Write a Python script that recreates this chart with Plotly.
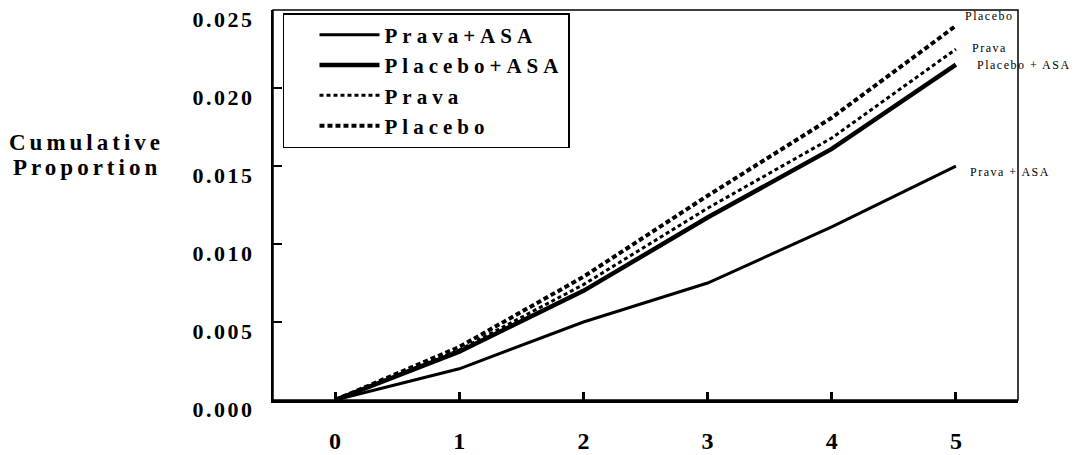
import plotly.graph_objects as go

years = [0, 1, 2, 3, 4, 5]
prava_asa = [0.0, 0.0020, 0.0050, 0.0075, 0.0111, 0.0150]
placebo_asa = [0.0, 0.0031, 0.0070, 0.0117, 0.0161, 0.0215]
prava = [0.0, 0.0032, 0.0074, 0.0123, 0.0168, 0.0225]
placebo = [0.0, 0.0034, 0.0079, 0.0131, 0.0181, 0.0240]

series_names = ["Prava+ASA", "Placebo+ASA", "Prava", "Placebo"]
end_labels = ["Prava + ASA", "Placebo + ASA", "Prava", "Placebo"]
y_ticks = [0.0, 0.005, 0.010, 0.015, 0.020, 0.025]
y_tick_labels = ["0.000", "0.005", "0.010", "0.015", "0.020", "0.025"]
x_tick_labels = ["0", "1", "2", "3", "4", "5"]
title_lines = ["Cumulative", "Proportion"]

SERIF = "Liberation Serif"


def spaced(s, px):
    return f'<span style="letter-spacing:{px}px">{s}</span>'


fig = go.Figure()
styles = [
    dict(width=3, dash="solid"),
    dict(width=4.5, dash="solid"),
    dict(width=3, dash="4px,3px"),
    dict(width=4, dash="5px,3px"),
]
for name, vals, st in zip(series_names, [prava_asa, placebo_asa, prava, placebo], styles):
    fig.add_trace(go.Scatter(x=years, y=vals, mode="lines", name=spaced(name, 5),
                             hovertext=name,
                             line=dict(color="black", width=st["width"], dash=st["dash"])))

# end-of-line labels
offsets = {"Prava + ASA": (12, -6), "Placebo + ASA": (19, 0), "Prava": (14, 1), "Placebo": (7, 10)}
for lab, vals in zip(end_labels, [prava_asa, placebo_asa, prava, placebo]):
    dx, dy = offsets[lab]
    fig.add_annotation(x=years[-1], y=vals[-1], xref="x", yref="y", text=spaced(lab, 1.5),
                       showarrow=False, xanchor="left", yanchor="middle", align="left",
                       xshift=dx, yshift=dy,
                       font=dict(family=SERIF, size=12, color="black"))

for line, py in zip(title_lines, [0.659, 0.597]):
    fig.add_annotation(x=-0.2497, y=py, xref="paper", yref="paper",
                       text=f"<b>{spaced(line, 4)}</b>", showarrow=False,
                       xanchor="center", yanchor="middle", align="center",
                       font=dict(family=SERIF, size=23, color="black"))

# frame (top/right thin)
fig.add_shape(type="rect", xref="paper", yref="paper", x0=0, y0=0, x1=1, y1=1,
              line=dict(color="black", width=1.5), layer="above")

# page body has an 8px margin: figure is sized so it ends at the window edge
fig.update_layout(
    width=1070, height=447,
    margin=dict(l=265, r=60, t=2, b=55, autoexpand=False),
    paper_bgcolor="white", plot_bgcolor="white",
    showlegend=True,
    legend=dict(x=0.0134, y=0.992, xanchor="left", yanchor="top",
                bgcolor="white", bordercolor="black", borderwidth=1.5,
                font=dict(family=SERIF, size=21, color="black", weight="bold"),
                itemwidth=60, tracegroupgap=0, indentation=30),
    xaxis=dict(range=[-0.5, 5.5], tickvals=years, ticktext=x_tick_labels,
               automargin=False, ticklabeloverflow="allow",
               showgrid=False, zeroline=False, showline=True, linecolor="black", linewidth=3,
               ticks="inside", ticklen=8, tickwidth=3, tickcolor="black",
               ticklabelstandoff=17,
               tickfont=dict(family=SERIF, size=24, color="black", weight="bold")),
    yaxis=dict(range=[0, 0.02501], tickvals=y_ticks,
               ticktext=[spaced(t, 2.5) for t in y_tick_labels],
               automargin=False, ticklabeloverflow="allow", ticklabelshift=9,
               showgrid=False, zeroline=False, showline=True, linecolor="black", linewidth=2,
               ticks="inside", ticklen=9, tickwidth=2, tickcolor="black",
               ticklabelstandoff=12,
               tickfont=dict(family=SERIF, size=22, color="black", weight="bold")),
)

fig.write_html("out.html")
